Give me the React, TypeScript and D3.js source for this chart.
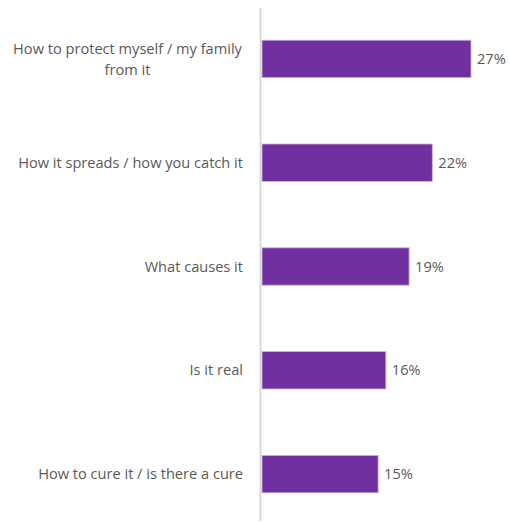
import React from "react";
import * as d3 from "d3";

const categories: string[][] = [
  ["How to protect myself / my family", "from it"],
  ["How it spreads / how you catch it"],
  ["What causes it"],
  ["Is it real"],
  ["How to cure it / is there a cure"],
];
const values: number[] = [27, 22, 19, 16, 15];
const valueLabels: string[] = ["27%", "22%", "19%", "16%", "15%"];

const W = 509;
const H = 523;

export default function App() {
  const x0 = 262;
  const x = d3.scaleLinear().domain([0, 27]).range([x0, 471]);
  const y = d3
    .scaleBand<number>()
    .domain(d3.range(categories.length))
    .range([7, 526])
    .paddingInner(0.64)
    .paddingOuter(0.32);
  const font = "'Open Sans', sans-serif";
  const fs = 14.6;
  return (
    <svg
      width={W}
      height={H}
      style={{ position: "absolute", left: 0, top: 0, background: "#fff" }}
    >
      <line x1={260.5} x2={260.5} y1={8} y2={521} stroke="#d9d9d9" strokeWidth={2} />
      {values.map((v, i) => {
        const yb = y(i)!;
        const bh = y.bandwidth();
        const cy = yb + bh / 2;
        const lines = categories[i];
        const lh = 21;
        return (
          <g key={i}>
            <rect
              x={x0}
              y={yb}
              width={x(v) - x0}
              height={bh}
              fill="#7030a0"
              stroke="#c9b3dc"
              strokeWidth={0.8}
            />
            <text
              x={x(v) + 6}
              y={cy}
              dy="0.35em"
              fontFamily={font}
              fontSize={fs}
              fill="#595959"
            >
              {valueLabels[i]}
            </text>
            {lines.map((t, j) => (
              <text
                key={j}
                x={lines.length > 1 ? 127.5 : 243}
                y={cy + (j - (lines.length - 1) / 2) * lh}
                dy="0.35em"
                textAnchor={lines.length > 1 ? "middle" : "end"}
                fontFamily={font}
                fontSize={fs}
                fill="#595959"
              >
                {t}
              </text>
            ))}
          </g>
        );
      })}
    </svg>
  );
}
